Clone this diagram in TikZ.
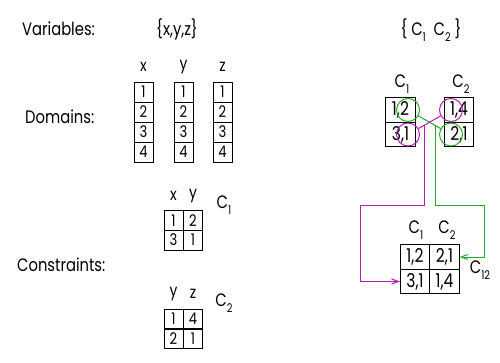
\documentclass[tikz,border=0pt]{standalone}
\usepackage{fontspec}
\setmainfont{Poppins}[FakeStretch=0.82]
\usepackage{tikz}
\usetikzlibrary{arrows.meta,calc,positioning}
\definecolor{cspGreen}  {RGB}{40, 170, 40}
\definecolor{cspMagenta}{RGB}{180, 30, 180}
\newcommand{\csub}[2]{#1\raisebox{-0.55ex}{\fontsize{12}{12}\selectfont #2}}

\begin{document}
\begin{tikzpicture}[x=1pt,y=-1pt,
          lbl/.style={font=\fontsize{18}{20}\selectfont,inner sep=0pt},
          dom/.style={draw,line width=0.6pt,minimum width=19pt,minimum height=20pt,
                      inner sep=0pt,font=\fontsize{16}{18}\selectfont},
          rel/.style={draw,line width=0.6pt,minimum width=29.5pt,minimum height=24.5pt,
                      inner sep=0pt,font=\fontsize{19}{21}\selectfont},
          hdr/.style={font=\fontsize{17}{19}\selectfont,inner sep=0pt},
          ring/.style={circle,draw=#1,line width=1pt,minimum size=23pt,inner sep=0pt},
          lnk/.style={draw=#1,line width=1pt},
        ]
        \useasboundingbox (0,0) rectangle (500,363);
        % left column labels
        \node[lbl,anchor=west] (var)  at (22,29) {Variables:};
        \node[lbl]             (set)  at (177,29) {\{x,y,z\}};
        \node[lbl,anchor=west] (dom)  at (25,117) {Domains:};
        \node[lbl,anchor=west] (con)  at (17,265) {Constraints:};
        % domains
        \foreach \v/\x in {x/143.5,y/183.5,z/222.5}{
          \node[hdr] (h\v) at (\x,67) {\v};
          \foreach \r in {1,...,4}{
            \node[dom] (d\v\r) at (\x,72+20*\r) {\r};
          }
        }
        % constraint C1
        \node[hdr] at (173.5,196) {x};
        \node[hdr] at (193,196) {y};
        \node[lbl] (c1) at (224,205) {\csub{C}{1}};
        \node[dom] (a11) at (173.5,220.5) {1};
        \node[dom] (a12) at (193,220.5) {2};
        \node[dom] (a21) at (173.5,240) {3};
        \node[dom] (a22) at (193,240) {1};
        % constraint C2
        \node[hdr] at (173.5,294) {y};
        \node[hdr] at (193,294) {z};
        \node[lbl] (c2) at (224,303) {\csub{C}{2}};
        \node[dom] (b11) at (173.5,319) {1};
        \node[dom] (b12) at (193,319) {4};
        \node[dom] (b21) at (173.5,338.5) {2};
        \node[dom] (b22) at (193,338.5) {1};
        % right side
        \node[lbl] (cset) at (431,30) {\{ \csub{C}{1}\ \ \csub{C}{2} \}};
        \node[lbl] at (402,84) {\csub{C}{1}};
        \node[lbl] at (461,84) {\csub{C}{2}};
        \node[rel] (p1) at (400.5,110) {1,2};
        \node[rel] (p2) at (400.5,134.5) {3,1};
        \node[rel] (q1) at (459,110) {1,4};
        \node[rel] (q2) at (459,134.5) {2,1};
        \node[ring=cspGreen]   (g1) at (408,110) {};
        \node[ring=cspMagenta] (m1) at (408,134.5) {};
        \node[ring=cspMagenta] (m2) at (451,110) {};
        \node[ring=cspGreen]   (g2) at (451,134.5) {};
        \draw[lnk=cspGreen]   (g1) -- (g2);
        \draw[lnk=cspMagenta] (m1) -- (m2);
        \coordinate (gj) at ($(g1)!0.63!(g2)$);
        \coordinate (mj) at ($(m1)!0.395!(m2)$);
        % joined relation C12
        \node[lbl] at (416,230) {\csub{C}{1}};
        \node[lbl] at (447,230) {\csub{C}{2}};
        \node[rel] (j1) at (415,257) {1,2};
        \node[rel] (j2) at (444.5,257) {2,1};
        \node[rel] (j3) at (415,281.5) {3,1};
        \node[rel] (j4) at (444.5,281.5) {1,4};
        \node[lbl] (c12) at (480,270) {\csub{C}{12}};
        \draw[lnk=cspGreen,-{Straight Barb[length=7pt,width=5pt]}]
          (gj) -- ++(0,80) -| ($(j2.east)+(25,0)$) -- (j2.east);
        \draw[lnk=cspMagenta,-{Straight Barb[length=7pt,width=5pt]}]
          (mj) -- ++(0,81) -| ($(j3.west)+(-39,0)$) -- (j3.west);
      \end{tikzpicture}
\end{document}
